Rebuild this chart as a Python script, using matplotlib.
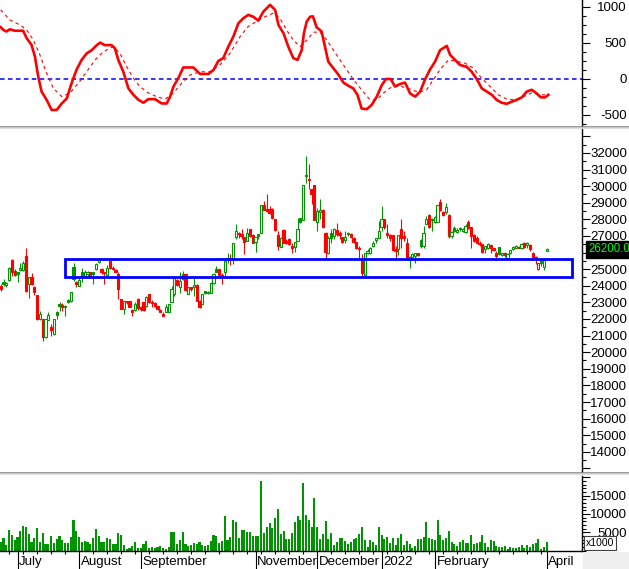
import numpy as np
import matplotlib
matplotlib.use("Agg")
import matplotlib.pyplot as plt
from matplotlib.patches import Rectangle
from matplotlib.lines import Line2D
from matplotlib.ticker import MultipleLocator

plt.rcParams['font.family'] = ['Liberation Sans', 'DejaVu Sans']

# ---- daily candles (one per trading day) ----
opens = [24000, 24250, 24050, 24350, 25550, 24900, 24800, 24950, 24950, 25800,
         24100, 24550, 23900, 23450, 22000, 22000, 20900, 21950, 21500, 21100,
         22450, 22900, 22850, 22700, 23150, 23100, 25150, 24250, 24000, 24800,
         24600, 24700, 24800, 24800, 25000, 25450, 25000, 24800, 24650, 25500,
         25100, 24950, 24700, 23200, 22600, 23100, 23100, 22550, 22550, 23200,
         22750, 23000, 22800, 23500, 23050, 22950, 22800, 22550, 22300, 22450,
         22450, 23000, 23500, 24350, 23950, 24700, 24700, 23500, 23900, 23950,
         24050, 23100, 22900, 23700, 23550, 23550, 24150, 25000, 25000, 24650,
         24800, 25700, 25650, 25550, 26950, 27200, 27100, 26950, 26700, 27450,
         27050, 26650, 27100, 27150, 28850, 28650, 28600, 28650, 28000, 27050,
         26350, 27350, 26700, 26800, 26400, 26350, 26700, 28100, 27950, 30600,
         30450, 29850, 30050, 27850, 28450, 28550, 27150, 26000, 27200, 27000,
         27350, 27200, 26950, 26750, 27100, 27100, 26900, 26650, 26300, 25600,
         24650, 25950, 26000, 26400, 26750, 26850, 27550, 28000, 27150, 27050,
         27050, 26200, 26200, 27450, 27000, 26600, 25550, 25750, 25800, 25950,
         26750, 26400, 27750, 28250, 28050, 27850, 27850, 29050, 28450, 28450,
         28250, 27000, 27500, 27250, 27500, 27300, 27250, 27850, 27550, 27050,
         26900, 26600, 26500, 26200, 26250, 26450, 26250, 26000, 26350, 25850,
         25950, 25700, 25950, 26200, 26300, 26350, 26250, 26600, 26450, 26450,
         25950, 25750, 25000, 25500, 25150, 26100]
highs = [24100, 24400, 24250, 25150, 25600, 25000, 24850, 25350, 25500, 26250,
         24550, 24750, 24000, 23450, 22500, 22000, 22000, 22450, 21700, 22000,
         22500, 23000, 22950, 22850, 23200, 23600, 25350, 24300, 24500, 25100,
         24950, 24900, 24850, 24850, 25350, 25700, 25100, 24850, 25250, 25500,
         25200, 25000, 24800, 23200, 23100, 23100, 23100, 22600, 23000, 23250,
         22800, 23050, 23400, 23500, 23150, 23000, 22800, 22600, 22400, 22900,
         22900, 24000, 24500, 24400, 24800, 24900, 24700, 23900, 23900, 24450,
         24100, 23150, 23500, 23700, 23700, 24200, 24750, 25200, 25000, 24750,
         25700, 25950, 25900, 26600, 27700, 27250, 27400, 26950, 27500, 27450,
         27100, 26950, 27100, 28850, 29100, 29500, 28800, 28700, 28050, 27300,
         26950, 27400, 26800, 26850, 26600, 26650, 28100, 28100, 30050, 31800,
         31350, 29850, 30050, 28700, 29200, 28600, 27250, 27000, 27400, 27500,
         27800, 27300, 26950, 27300, 27250, 27150, 26950, 26650, 26400, 25900,
         26000, 26200, 26350, 26700, 26900, 27900, 28800, 28000, 27700, 27100,
         27050, 26400, 27050, 28050, 27300, 26900, 25800, 26000, 26000, 26000,
         26800, 27600, 28200, 28300, 28100, 28200, 28850, 29200, 28500, 29000,
         28300, 27300, 27600, 27500, 27550, 27500, 27700, 27950, 27550, 27100,
         27000, 26700, 26500, 26400, 26550, 26500, 26300, 26100, 26350, 26000,
         26050, 25950, 26150, 26400, 26450, 26400, 26550, 26650, 26650, 26500,
         26050, 25800, 25400, 25600, 25650, 26250]
lows = [23700, 24000, 23950, 24300, 24600, 24600, 24200, 24900, 24900, 23650,
        23250, 24050, 23450, 21950, 21950, 20700, 20850, 21950, 21000, 21050,
        22000, 22500, 22500, 22200, 22950, 23050, 24300, 23950, 24000, 24250,
        24500, 24600, 24550, 24100, 24950, 25400, 24700, 24100, 24650, 25000,
        24950, 24800, 23200, 22600, 22300, 22900, 22700, 22200, 22500, 22550,
        22500, 22500, 22750, 22950, 22750, 22750, 22550, 22400, 22150, 22400,
        22400, 23000, 23400, 24000, 23550, 24350, 23700, 23500, 23700, 23400,
        23100, 22650, 22900, 23500, 23500, 23550, 24100, 24800, 24650, 24100,
        24600, 25400, 25250, 25300, 26800, 26900, 26800, 25900, 26700, 26950,
        26600, 26050, 26800, 27150, 28550, 28450, 28300, 28050, 27300, 26150,
        26350, 26600, 26500, 26450, 26000, 26050, 26700, 27800, 27950, 30200,
        29800, 28900, 27950, 27300, 28000, 27500, 25600, 25900, 26600, 26800,
        27000, 26800, 26600, 26600, 27000, 26900, 26600, 26200, 25650, 24550,
        24600, 25900, 25900, 26350, 26600, 26850, 27300, 27400, 26900, 26700,
        26150, 25650, 25850, 26300, 26700, 25600, 25050, 25700, 25400, 25800,
        26250, 26300, 27700, 27500, 27300, 27800, 27850, 28500, 28200, 28300,
        26900, 26900, 27250, 27200, 27300, 27250, 27200, 27450, 26300, 26650,
        26550, 26400, 26000, 26000, 26200, 26000, 26100, 25700, 25850, 25800,
        25750, 25600, 25900, 26150, 26250, 26250, 26200, 26300, 26300, 26100,
        25550, 25300, 24950, 25200, 24950, 26100]
closes = [23800, 24100, 24150, 25050, 24850, 24650, 24700, 25100, 25400, 23700,
          24500, 24100, 23600, 22000, 22300, 20900, 22000, 22250, 21350, 22000,
          22250, 22800, 22750, 22800, 23050, 23600, 24400, 24100, 24350, 24600,
          24800, 24850, 24550, 24700, 25300, 25550, 24800, 24750, 25100, 25050,
          25000, 24850, 23800, 22600, 23100, 23000, 22750, 22450, 22900, 22650,
          22600, 22550, 23300, 23000, 22950, 22800, 22600, 22450, 22200, 22700,
          22900, 23800, 24450, 24050, 24300, 24400, 23750, 23900, 23800, 24050,
          23100, 22750, 23500, 23550, 23650, 24150, 24700, 24850, 24650, 24600,
          25500, 25600, 25550, 26600, 27300, 27100, 27000, 26650, 27150, 27000,
          26600, 26950, 27000, 28850, 28550, 28500, 28400, 28100, 27350, 26400,
          26900, 26600, 26550, 26500, 26300, 26650, 27400, 27850, 30050, 30700,
          30350, 29550, 27950, 28500, 28550, 27550, 26050, 26850, 26900, 27400,
          27100, 27050, 26650, 26950, 27200, 26950, 26650, 26250, 26200, 24750,
          25950, 26100, 26300, 26600, 26850, 27300, 28000, 27550, 27050, 26900,
          26150, 26100, 27050, 26900, 26850, 25700, 25750, 25900, 25950, 25850,
          26400, 27200, 28050, 27550, 27950, 28150, 28850, 28550, 28250, 28750,
          27000, 27250, 27300, 27350, 27400, 27450, 27600, 27500, 27000, 26700,
          26600, 26500, 26050, 26400, 26500, 26300, 26150, 25800, 25900, 26000,
          25850, 25900, 26150, 26350, 26400, 26300, 26500, 26350, 26550, 26200,
          25700, 25650, 25350, 25400, 25550, 26200]
volumes = [2400, 3500, 1500, 5600, 4300, 2900, 3700, 5400, 6800, 6500,
           4500, 2300, 3400, 6200, 2300, 4800, 1800, 1800, 4000, 2000,
           3100, 4000, 2900, 2000, 2000, 3700, 8400, 5400, 3700, 2300,
           2600, 2300, 1800, 3400, 5900, 4000, 2300, 2300, 3400, 3100,
           1800, 1800, 4800, 4300, 1500, 400, 600, 1200, 2300, 600,
           600, 1800, 2600, 600, 900, 600, 900, 1200, 600, 400,
           900, 5100, 5100, 1800, 2900, 5100, 1800, 1200, 1500, 2000,
           1800, 2300, 1500, 1200, 1500, 2600, 4300, 4000, 2000, 2600,
           9500, 2900, 3700, 8400, 7900, 3400, 5600, 5600, 5100, 5100,
           4000, 4000, 4000, 19000, 4800, 6500, 7600, 6200, 9000, 11500,
           4500, 5400, 3100, 3100, 4800, 7900, 9500, 8400, 18400, 9800,
           8400, 6500, 14300, 6500, 3100, 4500, 8100, 3100, 4800, 1500,
           2300, 3400, 3400, 2600, 1800, 2300, 3100, 3400, 4500, 6500,
           2900, 900, 2900, 2300, 1500, 6500, 4300, 3100, 3700, 2000,
           3400, 1500, 3400, 4500, 1500, 2600, 1800, 600, 1200, 3100,
           3100, 3700, 7900, 3400, 3100, 2900, 8400, 4300, 2900, 3400,
           5400, 2300, 1800, 1200, 2300, 2900, 2000, 2000, 4300, 1800,
           2000, 2300, 4300, 2000, 900, 2900, 2600, 1200, 900, 900,
           1200, 400, 900, 600, 600, 900, 1500, 600, 1500, 900,
           1800, 2000, 3100, 400, 900, 2300]

# ---- MACD (solid) and signal (dotted), position = day index ----
macd_pos = [0, 1, 2, 3.3, 5, 8, 9.3, 11, 12.2, 13.4, 14.6, 16.4, 18.2, 20, 21.8,
            23.6, 25.3, 27.1, 28.9, 30.7, 32.5, 34.3, 35.5, 37.2, 39.6, 40.8, 42,
            43.8, 45.6, 47.4, 49.2, 51, 52.7, 55.1, 57.5, 59.3, 60.5, 61.7, 63.4,
            65.2, 68.8, 71.2, 74.2, 76, 77.7, 79.5, 81.3, 83.1, 84.9, 86.7, 88.4,
            90.2, 92, 93.8, 96.2, 98, 99.2, 101, 102.7, 104.5, 106, 107.5, 108.3,
            109.3, 110.5, 111.5, 112.8, 114.6, 115.8, 117, 118.8, 120.6, 122.4,
            124.2, 125.9, 127.4, 128.9, 130.7, 132.5, 134.3, 136.1, 137.6, 139.3,
            140.8, 142.6, 144.4, 146.2, 148, 149.8, 151.5, 153.3, 155.1, 156.9,
            159.3, 160.5, 162.3, 164, 166.4, 168.2, 170, 171.8, 173.6, 175.4,
            177.1, 178.9, 180.7, 182.5, 184.3, 186.1, 187.9, 189.6, 191.4, 192.9,
            194.4, 195.6]
macd_val = [720, 680, 660, 690, 670, 670, 565, 475, 315, 35, -175, -290, -430, -430,
            -340, -270, -60, 130, 265, 355, 400, 470, 505, 470, 470, 425, 265, 100,
            -130, -220, -290, -330, -280, -280, -340, -340, -245, -105, 10, 160,
            160, 70, 70, 125, 250, 290, 450, 590, 775, 845, 890, 865, 810, 935,
            1030, 960, 750, 635, 450, 290, 265, 400, 640, 800, 865, 870, 720, 660,
            450, 240, 150, 60, -50, -95, -130, -220, -410, -420, -360, -245, -85,
            0, 0, -105, -70, -50, -200, -245, -175, -10, 130, 240, 400, 460, 335,
            265, 195, 170, 100, 0, -130, -175, -220, -290, -330, -345, -315, -290,
            -255, -175, -150, -200, -255, -255, -220]
signal_pos = [0, 3.3, 6.9, 9.3, 11.7, 14, 16.4, 18.8, 21.8, 24.7, 27.7, 30.7, 33.7,
              36.7, 40.2, 42.6, 45, 47.4, 49.7, 52.7, 55.7, 58.7, 61.7, 64.6, 67.6,
              71.2, 74.7, 78.3, 81.9, 85.5, 88.4, 91.4, 94.4, 97.4, 99.7, 102.1,
              104.5, 106.9, 109.3, 111.7, 114, 116.4, 118.8, 122.4, 126, 128.9,
              131.9, 134.3, 136.7, 139.6, 142.6, 146.2, 149.2, 152.1, 154.5, 156.9,
              159.9, 162.9, 165.8, 168.8, 171.8, 174.8, 177.7, 180.7, 183.7, 186.7,
              189.6, 192.6, 195.6]
signal_val = [960, 820, 750, 680, 540, 335, 80, -130, -245, -195, -60, 100, 265, 380,
              450, 355, 170, 10, -105, -195, -245, -280, -195, -60, 55, 100, 100,
              195, 355, 590, 730, 800, 865, 915, 845, 680, 540, 450, 540, 650, 650,
              545, 400, 195, -10, -150, -290, -290, -195, -110, -100, -140, -185,
              -150, -10, 130, 265, 245, 220, 150, 10, -105, -220, -280, -290, -245,
              -195, -220, -220]

# month starts (day index) and their labels
month_pos = [6, 28, 50, 91, 113, 136, 155, 195]
month_lab = ['July', 'August', 'September', 'November', 'December', '2022',
             'February', 'April']

# support zone drawn on the chart
zone_start, zone_end = 23, 204
zone_low, zone_high = 24500, 25600

W, H = 629, 569
GREEN = '#009400'
RED = '#ff0000'
BLUE = '#0000ff'

fig = plt.figure(figsize=(W / 100, H / 100), dpi=100)
fig.patch.set_facecolor('white')


def make_ax(top, bottom):
    return fig.add_axes([0, 1 - bottom / H, 582 / W, (bottom - top) / H])


ax_m = make_ax(0, 126)
ax_p = make_ax(129, 472)
ax_v = make_ax(476, 550.5)

LABEL_X = 627 / 582  # right edge of the tick labels, axes fraction

for ax in (ax_m, ax_p, ax_v):
    ax.set_xlim(-0.25, 207.6)
    ax.set_facecolor('white')
    for s in ('left', 'top', 'bottom'):
        ax.spines[s].set_visible(False)
    ax.spines['right'].set_linewidth(1.0)
    ax.yaxis.tick_right()
    ax.tick_params(axis='y', which='major', length=5.8, width=0.8, labelright=False)
    ax.tick_params(axis='y', which='minor', length=2.9, width=0.8)
    ax.set_xticks([])


def right_labels(ax, values, texts):
    for v, t in zip(values, texts):
        ax.text(LABEL_X, v, t, transform=ax.get_yaxis_transform(), ha='right',
                va='center_baseline', fontsize=9.5, clip_on=False)


# ---- MACD panel ----
ax_m.set_ylim(-653, 1097)
ax_m.axhline(0, color=BLUE, lw=1.1, ls=(0, (3, 2.2)))
ax_m.plot(signal_pos, signal_val, color=RED, lw=0.8, ls=(0, (3, 3)))
ax_m.plot(macd_pos, macd_val, color=RED, lw=1.9, solid_joinstyle='round')
ax_m.set_yticks([-500, 0, 500, 1000])
ax_m.yaxis.set_minor_locator(MultipleLocator(125))
right_labels(ax_m, [1000, 500, 0, -500], ['1000', '500', '0', '-500'])

# ---- price panel ----
ax_p.set_ylim(12784, 33443)
for i in range(len(closes)):
    o, h, l, c = opens[i], highs[i], lows[i], closes[i]
    prev = closes[i - 1] if i > 0 else o
    col = GREEN if c >= prev else RED
    ax_p.vlines(i, l, h, color=col, lw=0.8, zorder=2)
    body = max(abs(c - o), 40)
    face = 'white' if c > o else col
    ax_p.add_patch(Rectangle((i - 0.4, min(o, c)), 0.8, body, facecolor=face,
                             edgecolor=col, lw=0.8, zorder=3))
ax_p.add_patch(Rectangle((zone_start, zone_low), zone_end - zone_start,
                         zone_high - zone_low, fill=False, edgecolor=BLUE,
                         lw=2.0, zorder=4))
ax_p.set_yticks(range(13000, 34000, 1000))
ax_p.yaxis.set_minor_locator(MultipleLocator(500))
price_ticks = list(range(14000, 33000, 1000))
right_labels(ax_p, price_ticks, [str(v) for v in price_ticks])
ax_p.text(588 / 582, closes[-1], f'{closes[-1]:.2f}', transform=ax_p.get_yaxis_transform(),
          ha='left', va='center', fontsize=8.3, color='#00ff00', clip_on=False,
          bbox=dict(boxstyle='square,pad=0.2', facecolor='black', edgecolor='black'),
          zorder=6)

# ---- volume panel ----
ax_v.set_ylim(0, 20400)
ax_v.bar(range(len(volumes)), volumes, width=0.72, color=GREEN, linewidth=0)
ax_v.spines['bottom'].set_visible(True)
ax_v.spines['bottom'].set_linewidth(1.0)
ax_v.set_yticks([5000, 10000, 15000, 20000])
ax_v.yaxis.set_minor_locator(MultipleLocator(1000))
right_labels(ax_v, [15000, 10000, 5000], ['15000', '10000', '5000'])
ax_v.set_xticks(month_pos)
ax_v.set_xticks(np.arange(3, 196, 5), minor=True)
ax_v.tick_params(axis='x', which='major', length=13.8, width=0.8, labelbottom=False)
ax_v.tick_params(axis='x', which='minor', length=2.5, width=0.8)
for p, t in zip(month_pos, month_lab):
    ax_v.text(p + 0.6, -0.155, t, transform=ax_v.get_xaxis_transform(), ha='left',
              va='center', fontsize=9.5, clip_on=False)

# ---- frame pieces between panels ----
for y, c in ((126.5, '#808080'), (128, '#d4d4d4'), (472.5, '#808080'), (474, '#d4d4d4')):
    fig.add_artist(Line2D([0, 1], [1 - y / H] * 2, transform=fig.transFigure,
                          color=c, lw=1.1))
fig.add_artist(Rectangle((583 / W, 0), 1, 17.5 / H, transform=fig.transFigure,
                         facecolor='#f0f0f0', edgecolor='none'))
fig.text(586 / W, 1 - 543 / H, 'x1000', fontsize=7.5, va='center', ha='left',
         bbox=dict(boxstyle='square,pad=0.15', facecolor='white', edgecolor='#404040',
                   lw=0.8))

fig.savefig('out.png', dpi=100)
